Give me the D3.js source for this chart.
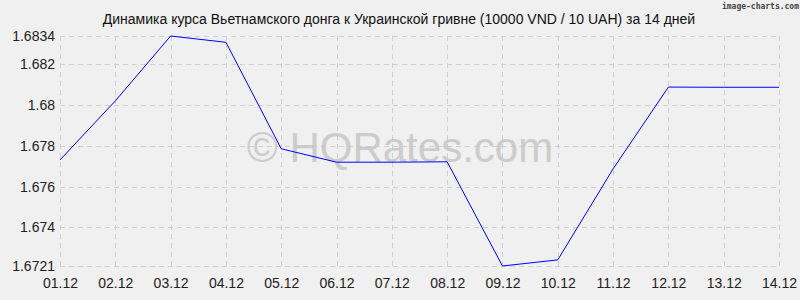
<!DOCTYPE html>
<html><head><meta charset="utf-8">
<script src="https://cdn.jsdelivr.net/npm/d3@7"></script>
<style>body{margin:0;background:#f0f0f0}svg{display:block}</style>
</head><body>
<svg id="c" width="800" height="300"></svg>
<script>
const dates = ["01.12","02.12","03.12","04.12","05.12","06.12","07.12","08.12","09.12","10.12","11.12","12.12","13.12","14.12"];
const rates = [1.67731,1.68021,1.6834,1.68309,1.67786,1.6772,1.6772,1.67722,1.6721,1.6724,1.67687,1.68089,1.68088,1.68088];
const yTicks = [1.6721,1.674,1.676,1.678,1.68,1.682,1.6834];
const yTickLabels = ["1.6721","1.674","1.676","1.678","1.68","1.682","1.6834"];
const title = "Динамика курса Вьетнамского донга к Украинской гривне (10000 VND / 10 UAH) за 14 дней";

const svg = d3.select("#c");
svg.append("rect").attr("width",800).attr("height",300).attr("fill","#f0f0f0");
const x = d3.scalePoint().domain(dates).range([60,779]);
const y = d3.scaleLinear().domain([1.6721,1.6834]).range([266,36]);
const font = "'Liberation Sans', Arial, sans-serif";

// grid
const g = svg.append("g");
g.selectAll("line.h").data(yTicks).join("line")
  .attr("x1",60).attr("x2",779).attr("y1",d=>Math.round(y(d))+0.5).attr("y2",d=>Math.round(y(d))+0.5)
  .attr("stroke","#cfcfcf").attr("stroke-dasharray","5,4");
g.selectAll("line.v").data(dates).join("line")
  .attr("x1",d=>Math.round(x(d))+0.5).attr("x2",d=>Math.round(x(d))+0.5).attr("y1",36).attr("y2",266)
  .attr("stroke","#cfcfcf").attr("stroke-dasharray","5,4");

// watermark
svg.append("text").attr("x",400).attr("y",162).attr("text-anchor","middle")
  .attr("font-family",font).attr("font-size",42).attr("fill","#c4c4c4").attr("opacity",0.8)
  .text("© HQRates.com");

// axes labels
const yAxis = d3.axisLeft(y).tickValues(yTicks).tickFormat((d,i)=>yTickLabels[i]).tickSize(0).tickPadding(5);
const ya = svg.append("g").attr("transform","translate(60,0)").call(yAxis);
ya.select(".domain").remove();
ya.selectAll("text").attr("font-family",font).attr("font-size",14).attr("fill","#222");

const xAxis = d3.axisBottom(x).tickSize(0).tickPadding(12);
const xa = svg.append("g").attr("transform","translate(0,266)").call(xAxis);
xa.select(".domain").remove();
xa.selectAll("text").attr("font-family",font).attr("font-size",14).attr("fill","#222");

// line
svg.append("path").datum(rates)
  .attr("d", d3.line().x((d,i)=>x(dates[i])).y(d=>y(d)))
  .attr("fill","none").attr("stroke","#0000ff").attr("stroke-width",1);

// title
svg.append("text").attr("x",399).attr("y",24).attr("text-anchor","middle")
  .attr("font-family",font).attr("font-size",14).attr("fill","#111").text(title);

svg.append("text").attr("x",799).attr("y",9).attr("text-anchor","end")
  .attr("font-family","'DejaVu Sans Mono', monospace").attr("font-size",8).attr("font-weight","bold").attr("fill","#444")
  .text("image-charts.com");
</script>
</body></html>
